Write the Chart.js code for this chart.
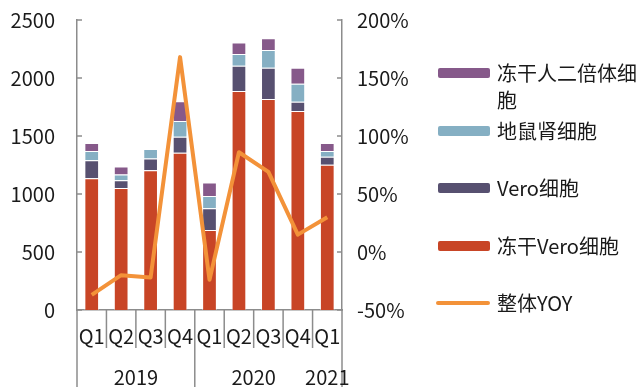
<!DOCTYPE html>
<html lang="zh">
<head>
<meta charset="UTF-8">
<title>细胞产品季度收入</title>
<style>
  body { margin: 0; background: #fff; }
  #wrap { position: relative; width: 638px; height: 387px; }
  .leg { position: absolute; left: 438px; font: 20px "Noto Sans CJK SC", sans-serif; color: #1a1a1a; }
  .leg .mk { position: absolute; left: 0; width: 52px; height: 10px; border-radius: 2px; }
  .leg .tx { position: absolute; left: 59px; width: 142px; line-height: 27px; }
</style>
</head>
<body>
<div id="wrap">
  <canvas id="myChart" width="638" height="387"></canvas>
  <div id="legend"></div>
</div>
<script src="https://cdn.jsdelivr.net/npm/chart.js"></script>
<script>
// quarters and years
const quarters = ['Q1', 'Q2', 'Q3', 'Q4', 'Q1', 'Q2', 'Q3', 'Q4', 'Q1'];
const years = ['2019', '2020', '2021'];
const yearCounts = [4, 4, 1];

// stacked values
const dongganVero = [1135, 1052, 1204, 1356, 690, 1888, 1819, 1716, 1253];
const vero = [155, 66, 101, 138, 187, 218, 270, 80, 69];
const dishuShen = [80, 51, 83, 135, 106, 101, 152, 155, 49];
const renErBeiTi = [70, 69, 0, 170, 117, 100, 101, 138, 69];
// overall YOY, %
const yoy = [-37, -20, -22, 168, -24, 86, 69, 15, 30];

const leftTicks = [0, 500, 1000, 1500, 2000, 2500];

const C_DV = '#C84526', C_V = '#575070', C_DS = '#85AFC3', C_R = '#86598A', C_Y = '#F39239';
const axisColor = '#8c8c8c';
const font = '"Noto Sans CJK SC", sans-serif';

// legend (html, right side)
const legendItems = [
  {t: '冻干人二倍体细胞', c: C_R, y: 73},
  {t: '地鼠肾细胞', c: C_DS, y: 131},
  {t: 'Vero细胞', c: C_V, y: 188},
  {t: '冻干Vero细胞', c: C_DV, y: 246},
  {t: '整体YOY', c: C_Y, y: 303, line: true}
];
let lg = '';
legendItems.forEach(it => {
  let mk = it.line
    ? '<span class="mk" style="background:' + it.c + ';height:4px;top:-2px;width:54px;left:-2px"></span>'
    : '<span class="mk" style="background:' + it.c + ';top:-5px"></span>';
  lg += '<div class="leg" style="top:' + it.y + 'px">' + mk +
        '<span class="tx" style="top:-14px">' + it.t + '</span></div>';
});
document.getElementById('legend').innerHTML = lg;

const axisDeco = {
  id: 'axisDeco',
  afterDraw(chart) {
    const ctx = chart.ctx, a = chart.chartArea;
    const x = chart.scales.x, y = chart.scales.y;
    const H = chart.height;
    ctx.save();
    ctx.strokeStyle = axisColor;
    ctx.lineWidth = 1.5;
    function ln(x1, y1, x2, y2) { ctx.beginPath(); ctx.moveTo(x1, y1); ctx.lineTo(x2, y2); ctx.stroke(); }
    // inward ticks on both value axes
    leftTicks.forEach(v => {
      const py = y.getPixelForValue(v);
      ln(a.left, py, a.left + 5, py);
      ln(a.right - 5, py, a.right, py);
    });
    // axis lines carried down through the label area
    ln(a.left, a.bottom, a.left, H);
    ln(a.right, a.bottom, a.right, H);
    // separators between quarters / years
    const half = (x.getPixelForValue(1) - x.getPixelForValue(0)) / 2;
    let cut = yearCounts[0];
    for (let i = 1; i < quarters.length; i++) {
      const px = x.getPixelForValue(i) - half;
      const long = (i === cut && i < quarters.length - 1);
      ln(px, a.bottom, px, long ? H : a.bottom + 38);
    }
    // year labels
    ctx.fillStyle = '#1a1a1a';
    ctx.font = '20px ' + font;
    ctx.textAlign = 'center';
    ctx.textBaseline = 'middle';
    let start = 0;
    years.forEach((yr, k) => {
      const end = start + yearCounts[k] - 1;
      const cx = (x.getPixelForValue(start) + x.getPixelForValue(end)) / 2;
      ctx.fillText(yr, cx, 377);
      start = end + 1;
    });
    ctx.restore();
  }
};

function fitV(w) {
  return function (s) { s.width = w; s.paddingTop = 0; s.paddingBottom = 0; };
}

const ctx = document.getElementById('myChart');
new Chart(ctx, {
  type: 'bar',
  data: {
    labels: quarters,
    datasets: [
      {type: 'line', label: '整体YOY', data: yoy, yAxisID: 'y1', borderColor: C_Y, borderWidth: 4,
       borderJoinStyle: 'round', pointRadius: 0, tension: 0, order: 0},
      {label: '冻干Vero细胞', data: dongganVero, backgroundColor: C_DV, order: 1},
      {label: 'Vero细胞', data: vero, backgroundColor: C_V, order: 1},
      {label: '地鼠肾细胞', data: dishuShen, backgroundColor: C_DS, order: 1},
      {label: '冻干人二倍体细胞', data: renErBeiTi, backgroundColor: C_R, order: 1}
    ]
  },
  options: {
    responsive: false,
    animation: false,
    devicePixelRatio: 1,
    layout: {padding: {top: 20, right: 196, left: 0, bottom: 0}},
    datasets: {bar: {categoryPercentage: 1, barPercentage: 0.5,
                     borderColor: 'rgba(255,255,255,0.45)', borderWidth: 1}},
    plugins: {legend: {display: false}, tooltip: {enabled: false}},
    scales: {
      x: {
        stacked: true,
        grid: {display: false, drawTicks: false},
        border: {color: axisColor, width: 1.5},
        ticks: {color: '#1a1a1a', font: {family: font, size: 20}, padding: 14, maxRotation: 0},
        afterFit(s) { s.height = 77; }
      },
      y: {
        stacked: true,
        min: 0, max: 2500,
        grid: {display: false, drawTicks: false},
        border: {color: axisColor, width: 1.5},
        ticks: {stepSize: 500, color: '#1a1a1a', font: {family: font, size: 20}, padding: 22,
                callback: v => String(v)},
        afterFit: fitV(77)
      },
      y1: {
        position: 'right',
        min: -50, max: 200,
        grid: {display: false, drawTicks: false},
        border: {color: axisColor, width: 1.5},
        ticks: {stepSize: 50, color: '#1a1a1a', font: {family: font, size: 20}, padding: 15,
                callback: v => v + '%'},
        afterFit: fitV(100)
      }
    }
  },
  plugins: [axisDeco]
});
</script>
</body>
</html>
